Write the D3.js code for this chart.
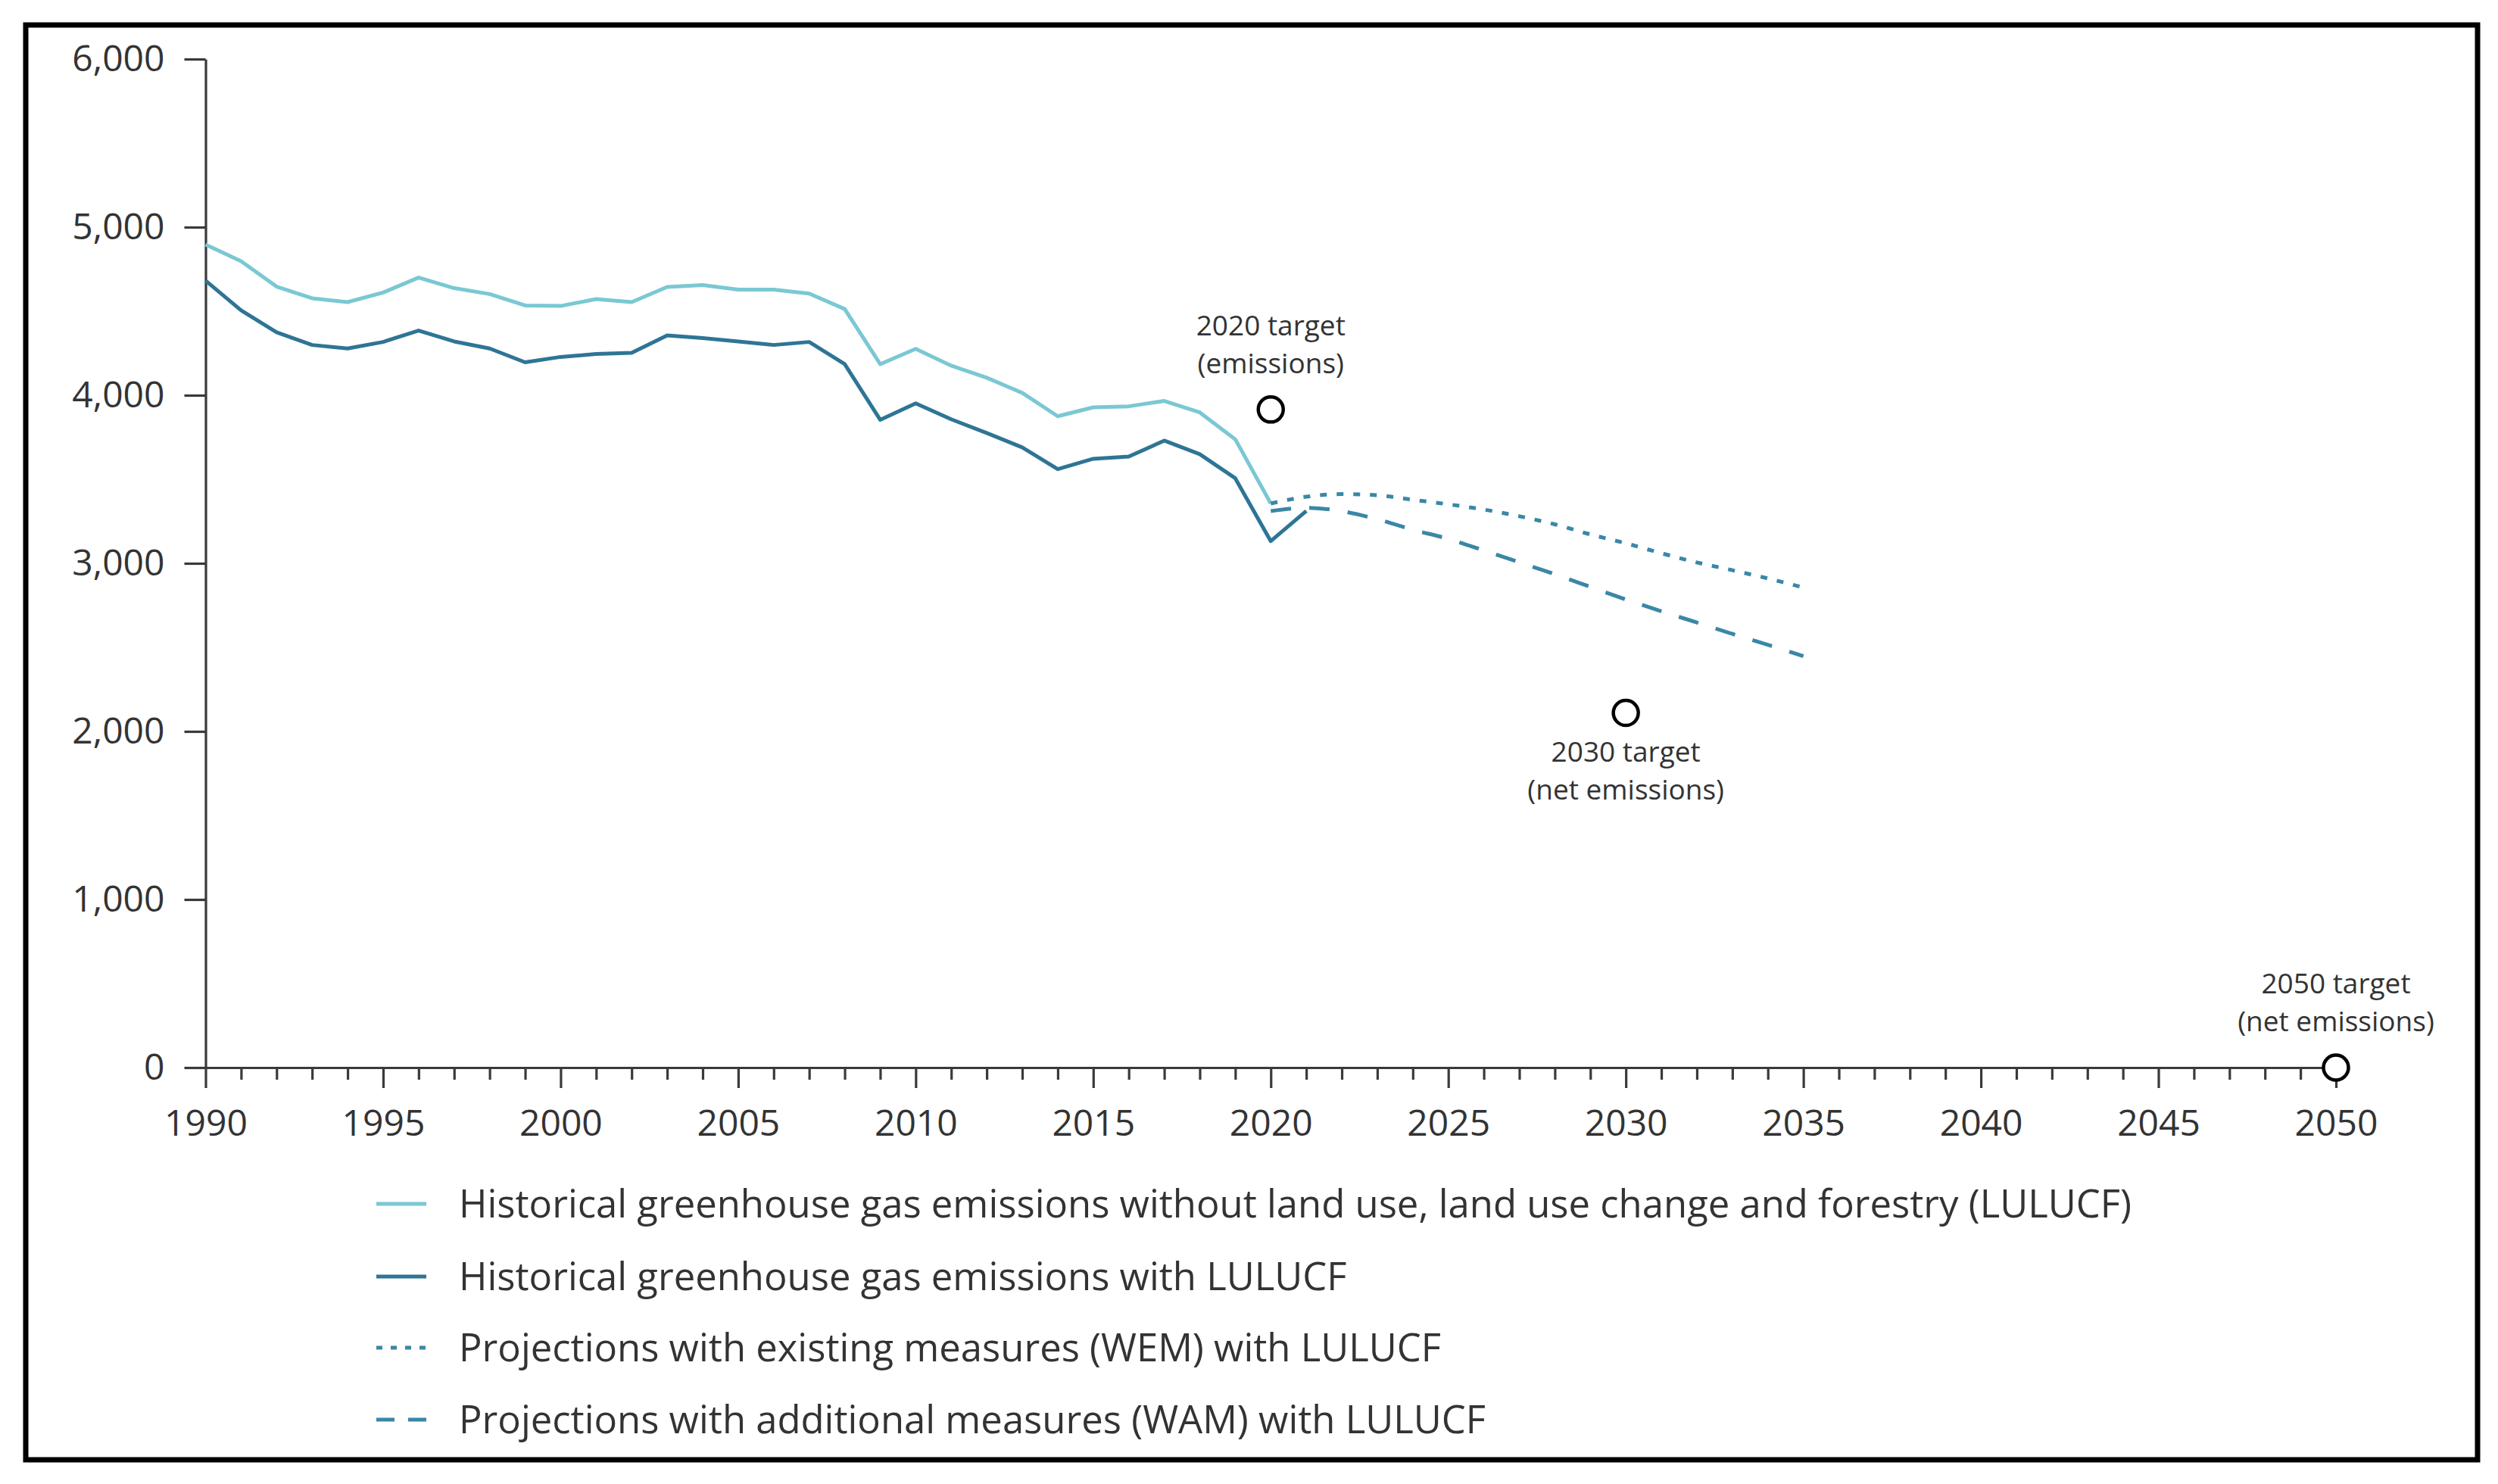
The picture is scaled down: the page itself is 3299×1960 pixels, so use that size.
<!DOCTYPE html>
<html>
<head>
<meta charset="utf-8">
<script src="https://cdn.jsdelivr.net/npm/d3@7"></script>
<style>
    body { margin: 0; background: #fff; }
    svg { display: block; font-family: "Open Sans", sans-serif; }
</style>
</head>
<body>
<svg id="ghg-chart" width="3299" height="1960"></svg>
<script>
// historical series (Mt CO2e)
var histYears = d3.range(1990, 2021);
var histWithoutLulucf = [4896, 4797, 4646, 4577, 4554, 4611, 4700, 4637, 4602, 4534, 4531, 4572, 4554,
    4644, 4655, 4628, 4628, 4605, 4513, 4185, 4276, 4176, 4104, 4014, 3875, 3928,
    3934, 3966, 3898, 3738, 3356];

var histWithLulucfYears = d3.range(1990, 2022);
var histWithLulucf = [4682, 4505, 4374, 4299, 4278, 4317, 4385, 4320, 4278, 4196, 4228, 4245, 4252,
    4356, 4340, 4320, 4299, 4317, 4185, 3854, 3952, 3857, 3775, 3690, 3560, 3622,
    3635, 3730, 3649, 3506, 3132, 3311];

// projections
var projYears = d3.range(2020, 2036);
var wem = [3356, 3396, 3412, 3405, 3378, 3351, 3320, 3280, 3232, 3172, 3119, 3060, 3005, 2959, 2910, 2856];
var wam = [3311, 3330, 3310, 3262, 3200, 3145, 3077, 3006, 2935, 2860, 2785, 2715, 2648, 2580, 2515, 2448];

// targets
var targetYears = [2020, 2030, 2050];
var targetValues = [3915, 2110, 0];
var targetLabels = [["2020 target", "(emissions)"], ["2030 target", "(net emissions)"], ["2050 target", "(net emissions)"]];
var targetLabelSide = ["above", "below", "above"];

var yTicks = [0, 1000, 2000, 3000, 4000, 5000, 6000];
var xLabelYears = d3.range(1990, 2051, 5);

var legendLabels = [
    "Historical greenhouse gas emissions without land use, land use change and forestry (LULUCF)",
    "Historical greenhouse gas emissions with LULUCF",
    "Projections with existing measures (WEM) with LULUCF",
    "Projections with additional measures (WAM) with LULUCF"
];

var lightColor = "#7ac8d3",
    darkColor = "#2e7595",
    projColor = "#3a87a6",
    axisColor = "#3a3a3a",
    textColor = "#333";

function drawChart() {
    var svg = d3.select("#ghg-chart");
    svg.selectAll("*").remove();

    // outer frame
    svg.append("rect")
        .attr("x", 34)
        .attr("y", 33)
        .attr("width", 3238)
        .attr("height", 1895)
        .attr("fill", "#fff")
        .attr("stroke", "#000")
        .attr("stroke-width", 7);

    var margin = {top: 78, left: 271.5},
        width = 3085 - margin.left,
        height = 1410 - margin.top,
        g = svg.append("g").attr("transform", "translate(" + margin.left + "," + margin.top + ")");

    var x = d3.scaleLinear().domain([1990, 2050]).range([0, width]);
    var y = d3.scaleLinear().domain([0, 6000]).range([height, 0]);

    // y axis
    var axisY = d3.axisLeft(y)
        .tickValues(yTicks)
        .tickSize(28)
        .tickSizeOuter(0)
        .tickPadding(26)
        .tickFormat(d3.format(","));

    var gy = g.append("g")
        .attr("class", "axis axis--y")
        .call(axisY);
    gy.selectAll("text")
        .attr("dy", "0.33em")
        .style("font-size", "48px")
        .attr("fill", textColor);

    // x axis, a tick every year, longer every 5 years
    var axisX = d3.axisBottom(x)
        .tickValues(d3.range(1990, 2051))
        .tickSize(27)
        .tickSizeOuter(0)
        .tickFormat(function (d) {
            return xLabelYears.indexOf(d) >= 0 ? d : "";
        });

    var gx = g.append("g")
        .attr("class", "axis axis--x")
        .attr("transform", "translate(0," + height + ")")
        .call(axisX);
    gx.selectAll(".tick line")
        .attr("y2", function (d) {
            return d % 5 === 0 ? 27 : 16;
        });
    gx.selectAll("text")
        .attr("y", 90)
        .attr("dy", 0)
        .style("font-size", "48px")
        .attr("fill", textColor);

    svg.selectAll(".axis path, .axis line")
        .attr("stroke", axisColor)
        .attr("stroke-width", 3.2);
    svg.selectAll(".axis").attr("font-family", null);

    var line = d3.line()
        .x(function (d) {
            return x(d.year);
        })
        .y(function (d) {
            return y(d.value);
        });

    var smooth = d3.line()
        .curve(d3.curveMonotoneX)
        .x(function (d) {
            return x(d.year);
        })
        .y(function (d) {
            return y(d.value);
        });

    function pairs(years, values) {
        return years.map(function (yr, i) {
            return {year: yr, value: values[i]};
        });
    }

    var series = [
        {data: pairs(histYears, histWithoutLulucf), color: lightColor, dash: null, gen: line},
        {data: pairs(histWithLulucfYears, histWithLulucf), color: darkColor, dash: null, gen: line},
        {data: pairs(projYears, wem), color: projColor, dash: "9,13", gen: smooth},
        {data: pairs(projYears, wam), color: projColor, dash: "27,24", gen: smooth}
    ];

    g.selectAll(".series")
        .data(series)
        .enter().append("path")
        .attr("class", "series")
        .attr("fill", "none")
        .attr("stroke", function (d) {
            return d.color;
        })
        .attr("stroke-width", 5)
        .attr("stroke-linejoin", "round")
        .attr("stroke-dasharray", function (d) {
            return d.dash;
        })
        .attr("d", function (d) {
            return d.gen(d.data);
        });

    // targets
    var targets = targetYears.map(function (yr, i) {
        return {year: yr, value: targetValues[i], label: targetLabels[i], side: targetLabelSide[i]};
    });

    var tg = g.selectAll(".target")
        .data(targets)
        .enter().append("g")
        .attr("class", "target")
        .attr("transform", function (d) {
            return "translate(" + x(d.year) + "," + y(d.value) + ")";
        });

    tg.append("circle")
        .attr("r", 16.5)
        .attr("fill", "#fff")
        .attr("stroke", "#000")
        .attr("stroke-width", 4.5);

    // two-line label as one text element
    var label = tg.append("text")
        .attr("text-anchor", "middle")
        .attr("y", function (d) {
            return d.side === "above" ? -98 : 64;
        })
        .style("font-size", "37px")
        .attr("fill", textColor);

    label.selectAll("tspan")
        .data(function (d) {
            return d.label;
        })
        .enter().append("tspan")
        .attr("x", 0)
        .attr("dy", function (d, i) {
            return i === 0 ? 0 : 50;
        })
        .text(function (d) {
            return d;
        });

    // legend
    var legendRows = [1590, 1686, 1780, 1875];
    var legendDash = [null, null, "8,11", "24,18"];
    var legendColor = [lightColor, darkColor, projColor, projColor];

    var lg = svg.selectAll(".legend")
        .data(legendLabels)
        .enter().append("g")
        .attr("class", "legend")
        .attr("transform", function (d, i) {
            return "translate(0," + legendRows[i] + ")";
        });

    lg.append("line")
        .attr("x1", 497)
        .attr("x2", 563)
        .attr("stroke", function (d, i) {
            return legendColor[i];
        })
        .attr("stroke-width", 5)
        .attr("stroke-dasharray", function (d, i) {
            return legendDash[i];
        });

    lg.append("text")
        .attr("x", 606)
        .attr("dy", "0.36em")
        .style("font-size", "50.8px")
        .attr("fill", textColor)
        .text(function (d) {
            return d;
        });
}

drawChart();
</script>
</body>
</html>
